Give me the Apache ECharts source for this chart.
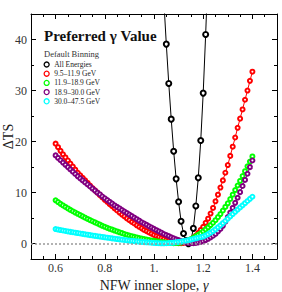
<!DOCTYPE html>
<html>
<head>
<meta charset="utf-8">
<script src="https://cdn.jsdelivr.net/npm/echarts@6/dist/echarts.min.js"></script>
<style>html,body{margin:0;padding:0;background:#fff}#c{width:282px;height:292px}</style>
</head>
<body>
<div id="c"></div>
<script>
// ---- data ----
const gammaGrid = [0.60,0.61,0.62,0.63,0.64,0.65,0.66,0.67,0.68,0.69,0.70,0.71,0.72,0.73,0.74,0.75,0.76,0.77,0.78,0.79,0.80,0.81,0.82,0.83,0.84,0.85,0.86,0.87,0.88,0.89,0.90,0.91,0.92,0.93,0.94,0.95,0.96,0.97,0.98,0.99,1.00,1.01,1.02,1.03,1.04,1.05,1.06,1.07,1.08,1.09,1.10,1.11,1.12,1.13,1.14,1.15,1.16,1.17,1.18,1.19,1.20,1.21,1.22,1.23,1.24,1.25,1.26,1.27,1.28,1.29,1.30,1.31,1.32,1.33,1.34,1.35,1.36,1.37,1.38,1.39,1.40];
const gammaAll = [1.04,1.05,1.06,1.07,1.08,1.09,1.10,1.11,1.12,1.13,1.14,1.15,1.16,1.17,1.18,1.19,1.20,1.21,1.22];
const tsAll = [47.6,39.1,31.4,24.4,18.1,12.7,8.2,4.4,2.0,0.6,0.0,0.6,3.0,7.4,12.9,20.2,29.5,41.0,54.0];
const ts_9_5_11_9 = [19.6,18.9,18.2,17.5,16.9,16.3,15.7,15.1,14.5,13.9,13.4,12.9,12.4,11.9,11.4,10.9,10.45,10.0,9.5,9.05,8.6,8.2,7.75,7.35,6.9,6.5,6.1,5.7,5.35,4.95,4.6,4.25,3.95,3.6,3.3,3.0,2.7,2.45,2.2,1.95,1.7,1.5,1.3,1.1,0.9,0.7,0.55,0.4,0.25,0.15,0.1,0.1,0.15,0.3,0.5,0.8,1.2,1.6,2.1,2.7,3.3,4.1,4.9,5.9,7.0,8.3,9.6,11.0,12.4,13.9,15.4,17.2,19.0,20.8,22.7,24.5,26.3,28.2,30.0,31.9,33.7];
const ts_11_9_18_9 = [8.5,8.15,7.8,7.5,7.2,6.9,6.62,6.35,6.1,5.85,5.6,5.35,5.1,4.85,4.62,4.4,4.17,3.95,3.73,3.5,3.3,3.1,2.92,2.75,2.57,2.4,2.23,2.07,1.9,1.75,1.6,1.47,1.35,1.22,1.1,1.0,0.9,0.8,0.7,0.62,0.55,0.47,0.4,0.33,0.26,0.2,0.15,0.12,0.1,0.12,0.15,0.22,0.32,0.45,0.65,0.9,1.15,1.45,1.75,2.05,2.4,2.8,3.2,3.65,4.1,4.6,5.2,5.8,6.5,7.2,7.9,8.75,9.6,10.5,11.4,12.3,13.25,14.2,15.15,16.1,17.1];
const ts_18_9_30_0 = [17.3,16.8,16.35,15.9,15.45,15.0,14.55,14.1,13.65,13.2,12.8,12.4,12.0,11.6,11.2,10.8,10.4,10.0,9.65,9.25,8.9,8.55,8.2,7.85,7.5,7.2,6.9,6.6,6.3,6.0,5.7,5.4,5.1,4.8,4.5,4.2,3.95,3.7,3.4,3.15,2.9,2.65,2.4,2.15,1.9,1.7,1.5,1.25,1.05,0.85,0.7,0.5,0.35,0.25,0.15,0.1,0.1,0.15,0.25,0.35,0.5,0.7,0.95,1.25,1.55,1.9,2.4,2.9,3.5,4.3,5.2,6.1,7.0,8.0,9.0,10.1,11.3,12.5,13.7,15.0,16.3];
const ts_30_0_47_5 = [2.87,2.77,2.67,2.58,2.49,2.4,2.32,2.24,2.16,2.08,2.0,1.92,1.84,1.76,1.68,1.6,1.53,1.46,1.39,1.32,1.25,1.18,1.11,1.04,0.97,0.9,0.84,0.78,0.72,0.66,0.6,0.55,0.5,0.45,0.4,0.35,0.31,0.27,0.23,0.19,0.15,0.12,0.1,0.08,0.08,0.09,0.12,0.16,0.21,0.27,0.34,0.42,0.5,0.59,0.69,0.8,0.92,1.04,1.16,1.28,1.4,1.62,1.87,2.15,2.46,2.8,3.2,3.6,4.02,4.45,4.9,5.35,5.8,6.25,6.68,7.1,7.52,7.94,8.36,8.78,9.2];
const seriesNames = ['All Energies','9.5\u201311.9 GeV','11.9\u201318.9 GeV','18.9\u201330.0 GeV','30.0\u201347.5 GeV'];
const xMajorTicks = [0.6,0.8,1.0,1.2,1.4];
const xMinorTicks = [0.55,0.65,0.7,0.75,0.85,0.9,0.95,1.05,1.1,1.15,1.25,1.3,1.35,1.45];
const yMajorTicks = [0,10,20,30,40];
const yMinorTicks = [5,15,25,35];

// ---- chart ----
const FONT = "'Liberation Serif','Times New Roman',serif";
const chart = echarts.init(document.getElementById('c'), null, {renderer: 'svg'});
const pair = (xs, ys) => xs.map((x, i) => [x, ys[i]]);
const colors = ['#000000','#ff0000','#00ff00','#800080','#00ffff'];
const XMIN = 0.5, XMAX = 1.5, YMIN = -3, YMAX = 45;

function xAx(pos, ticks, len, labels, line) {
  return {
    type: 'value', position: pos, min: XMIN, max: XMAX,
    axisLine: {show: line, onZero: false, lineStyle: {color: '#000', width: 1}},
    axisTick: {show: true, inside: true, length: len, customValues: ticks, lineStyle: {color: '#000', width: 1}},
    axisLabel: labels ? {show: true, customValues: ticks, margin: 3, color: '#333', fontFamily: FONT, fontSize: 12,
      formatter: v => (Math.abs(v - 1) < 1e-9 ? '1.' : v.toFixed(1))} : {show: false},
    splitLine: {show: false}
  };
}
function yAx(pos, ticks, len, labels, line) {
  return {
    type: 'value', position: pos, min: YMIN, max: YMAX,
    axisLine: {show: line, onZero: false, lineStyle: {color: '#000', width: 1}},
    axisTick: {show: true, inside: true, length: len, customValues: ticks, lineStyle: {color: '#000', width: 1}},
    axisLabel: labels ? {show: true, customValues: ticks, margin: 4, color: '#333', fontFamily: FONT, fontSize: 12} : {show: false},
    splitLine: {show: false}
  };
}

const xAxes = [xAx('bottom', xMajorTicks, 5, true, true), xAx('bottom', xMinorTicks, 3, false, false),
               xAx('top', xMajorTicks, 5, false, true), xAx('top', xMinorTicks, 3, false, false)];
xAxes[0].name = 'NFW inner slope, {i|\u03b3}';
xAxes[0].nameLocation = 'middle';
xAxes[0].nameGap = 17;
xAxes[0].nameTextStyle = {fontFamily: FONT, fontSize: 14, color: '#222', rich: {i: {fontFamily: FONT, fontSize: 14, fontStyle: 'italic', color: '#222'}}};
const yAxes = [yAx('left', yMajorTicks, 5, true, true), yAx('left', yMinorTicks, 3, false, false),
               yAx('right', yMajorTicks, 5, false, true), yAx('right', yMinorTicks, 3, false, false)];
yAxes[0].name = '\u0394TS';
yAxes[0].nameLocation = 'middle';
yAxes[0].nameGap = 16;
yAxes[0].nameMoveOverlap = false;
yAxes[0].nameTextStyle = {fontFamily: FONT, fontSize: 14, color: '#222'};

function mkSeries(name, xs, ys, color, size, bw, extra) {
  return Object.assign({
    type: 'line', name: name, data: pair(xs, ys), xAxisIndex: 0, yAxisIndex: 0,
    symbol: 'emptyCircle', symbolSize: size, showAllSymbol: true, clip: true,
    itemStyle: {color: color, borderColor: color, borderWidth: bw},
    lineStyle: {color: color, width: 1}, animation: false, silent: true
  }, extra || {});
}

const series = [
  mkSeries(seriesNames[0], gammaAll, tsAll, '#000', 5, 1.2, {
    markLine: {silent: true, symbol: 'none', label: {show: false},
      lineStyle: {color: '#999', type: [2, 2], width: 1.5}, data: [{yAxis: 0}], animation: false}
  }),
  mkSeries(seriesNames[1], gammaGrid, ts_9_5_11_9, colors[1], 4, 1.3),
  mkSeries(seriesNames[2], gammaGrid, ts_11_9_18_9, colors[2], 4, 1.3),
  mkSeries(seriesNames[3], gammaGrid, ts_18_9_30_0, colors[3], 4, 1.3),
  mkSeries(seriesNames[4], gammaGrid, ts_30_0_47_5, colors[4], 4, 1.3)
];

chart.setOption({
  animation: false,
  backgroundColor: '#fff',
  grid: {left: 31, right: 5, top: 14, bottom: 33, containLabel: false, outerBoundsMode: 'none'},
  title: [
    {text: 'Preferred \u03b3 Value', left: 39, top: 23, textStyle: {fontFamily: FONT, fontSize: 15, fontWeight: 'bold', color: '#111'}},
    {text: 'Default Binning', left: 39, top: 44, textStyle: {fontFamily: FONT, fontSize: 8.5, fontWeight: 'normal', color: '#333'}}
  ],
  legend: {
    orient: 'vertical', left: 38.5, top: 55.5, itemWidth: 5, itemHeight: 5, itemGap: 1.2,
    icon: 'circle', data: seriesNames,
    itemStyle: {color: '#fff', borderWidth: 1.3},
    textStyle: {fontFamily: FONT, fontSize: 7.5, color: '#222', lineHeight: 8},
    selectedMode: false
  },
  xAxis: xAxes,
  yAxis: yAxes,
  series: series
});
</script>
</body>
</html>
